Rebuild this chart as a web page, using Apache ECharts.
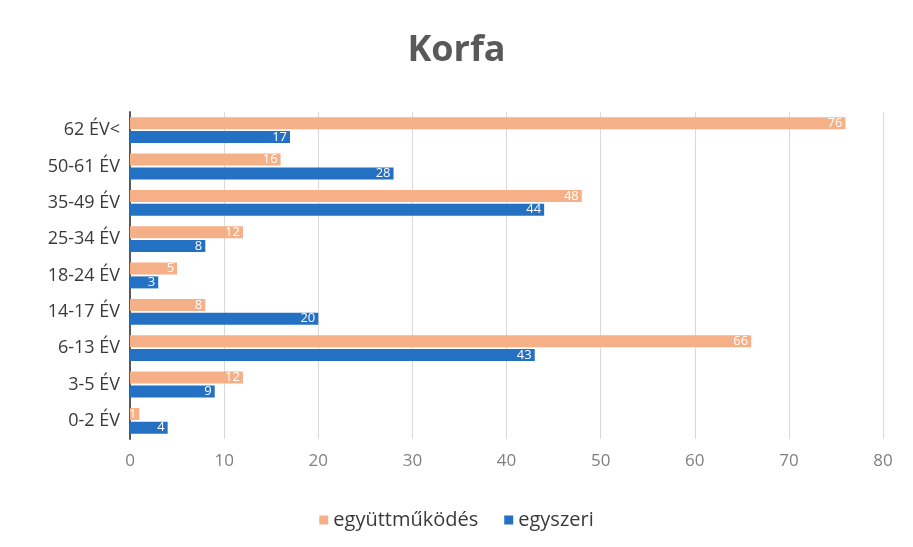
<!DOCTYPE html>
<html>
<head>
<meta charset="utf-8">
<script src="https://cdn.jsdelivr.net/npm/echarts@6/dist/echarts.min.js"></script>
<style>
  html, body { margin: 0; padding: 0; background: #fff; }
  #chart { width: 913px; height: 547px; }
</style>
</head>
<body>
<div id="chart"></div>
<script>
// age groups, bottom to top as the category axis runs upward
const categories = ['0-2 ÉV', '3-5 ÉV', '6-13 ÉV', '14-17 ÉV', '18-24 ÉV', '25-34 ÉV', '35-49 ÉV', '50-61 ÉV', '62 ÉV<'];
const egyuttmukodes = [1, 12, 66, 8, 5, 12, 48, 16, 76];
const egyszeri = [4, 9, 43, 20, 3, 8, 44, 28, 17];
const xTicks = [0, 10, 20, 30, 40, 50, 60, 70, 80];

const font = '"Open Sans", "Noto Sans", sans-serif';

const chart = echarts.init(document.getElementById('chart'));
chart.setOption({
    backgroundColor: '#ffffff',
    textStyle: { fontFamily: font },
    title: {
        text: 'Korfa',
        left: 'center',
        top: 28,
        textStyle: {
            color: '#595959',
            fontSize: 36,
            fontWeight: 'bold',
            fontFamily: font
        }
    },
    legend: {
        data: ['együttműködés', 'egyszeri'],
        bottom: 12,
        left: 'center',
        icon: 'rect',
        itemWidth: 9,
        itemHeight: 9,
        itemGap: 26,
        textStyle: {
            color: '#3a3a3a',
            fontSize: 20
        }
    },
    grid: {
        left: 130,
        right: 30,
        top: 112,
        bottom: 108
    },
    xAxis: {
        type: 'value',
        min: xTicks[0],
        max: xTicks[xTicks.length - 1],
        interval: 10,
        axisLine: { show: false },
        axisTick: { show: false },
        axisLabel: {
            color: '#7f7f7f',
            fontSize: 17,
            margin: 14
        },
        splitLine: {
            show: true,
            lineStyle: { color: '#d9d9d9', width: 1 }
        }
    },
    yAxis: {
        type: 'category',
        data: categories,
        axisTick: { show: false },
        axisLine: {
            show: true,
            lineStyle: { color: '#595959', width: 2 }
        },
        axisLabel: {
            color: '#3a3a3a',
            fontSize: 18,
            margin: 10
        }
    },
    series: [
        {
            name: 'együttműködés',
            type: 'bar',
            data: egyuttmukodes,
            barWidth: 12,
            barGap: '15%',
            itemStyle: { color: '#f6b088' },
            label: {
                show: true,
                position: 'insideRight',
                color: '#ffffff',
                fontSize: 13,
                offset: [2, 0]
            }
        },
        {
            name: 'egyszeri',
            type: 'bar',
            data: egyszeri,
            barWidth: 12,
            barGap: '15%',
            itemStyle: { color: '#2470c2' },
            label: {
                show: true,
                position: 'insideRight',
                color: '#ffffff',
                fontSize: 13,
                offset: [2, 0]
            }
        }
    ]
});
</script>
</body>
</html>
